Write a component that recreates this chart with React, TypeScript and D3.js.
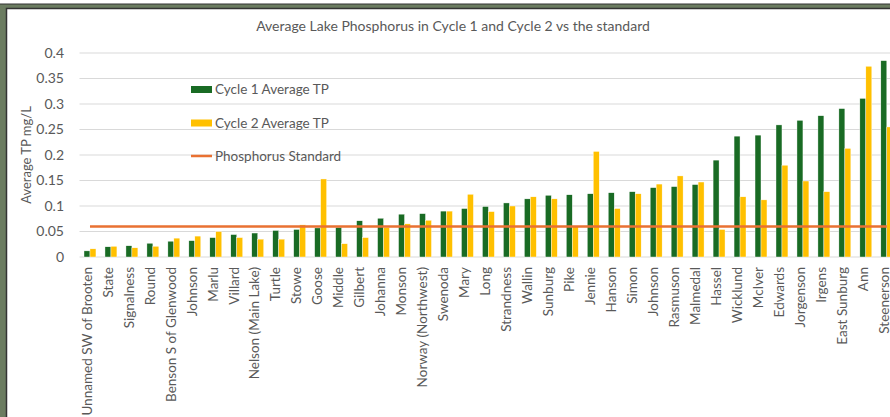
import * as d3 from 'd3'

const lakes = [
  'Unnamed SW of Brooten', 'State', 'Signalness', 'Round', 'Benson S of Glenwood',
  'Johnson', 'Marlu', 'Villard', 'Nelson (Main Lake)', 'Turtle', 'Stowe', 'Goose',
  'Middle', 'Gilbert', 'Johanna', 'Monson', 'Norway (Northwest)', 'Swenoda', 'Mary',
  'Long', 'Strandness', 'Wallin', 'Sunburg', 'Pike', 'Jennie', 'Hanson', 'Simon',
  'Johnson ', 'Rasmuson', 'Malmedal', 'Hassel', 'Wicklund', 'McIver', 'Edwards',
  'Jorgenson', 'Irgens', 'East Sunburg', 'Ann', 'Steenerson'
]

const cycle1 = [
  0.012, 0.020, 0.022, 0.027, 0.031, 0.032, 0.038, 0.044, 0.047, 0.052, 0.054, 0.057,
  0.058, 0.071, 0.076, 0.084, 0.085, 0.090, 0.095, 0.099, 0.106, 0.114, 0.121, 0.122,
  0.124, 0.126, 0.128, 0.136, 0.138, 0.142, 0.190, 0.237, 0.239, 0.259, 0.268, 0.277,
  0.291, 0.311, 0.385
]

const cycle2 = [
  0.016, 0.021, 0.018, 0.021, 0.037, 0.041, 0.050, 0.038, 0.035, 0.035, 0.063, 0.153,
  0.026, 0.038, 0.058, 0.065, 0.072, 0.090, 0.123, 0.089, 0.100, 0.118, 0.114, 0.060,
  0.207, 0.095, 0.124, 0.143, 0.159, 0.147, 0.054, 0.118, 0.112, 0.180, 0.149, 0.128,
  0.213, 0.374, 0.255
]

const standard = 0.06
const yTicks = [0, 0.05, 0.1, 0.15, 0.2, 0.25, 0.3, 0.35, 0.4]
const seriesNames = ['Cycle 1 Average TP', 'Cycle 2 Average TP', 'Phosphorus Standard']

const colors = {
  c1: '#196B24',
  c2: '#FFC000',
  std: '#E97132',
  text: '#595959',
  grid: '#D9D9D9'
}

const W = 890
const H = 417
const plot = { left: 79.5, right: 897.3, top: 53, bottom: 257 }
const font = 'Lato, "Open Sans", sans-serif'

export default function App() {
  const x = d3.scaleBand()
    .domain(lakes)
    .range([plot.left, plot.right])
    .paddingInner(0.43)
    .paddingOuter(0.215)

  const sub = d3.scaleBand()
    .domain(['c1', 'c2'])
    .range([0, x.bandwidth()])

  const y = d3.scaleLinear()
    .domain([0, 0.4])
    .range([plot.bottom, plot.top])

  const fmt = (d: number) => String(+d.toFixed(2))
  const center = (name: string) => (x(name) ?? 0) + x.bandwidth() / 2

  const stdLine = d3.line<string>()
    .x(d => center(d))
    .y(() => y(standard))

  return (
    <svg width={W} height={H} style={{ display: 'block', position: 'absolute', left: 0, top: 0 }}>
      {/* surrounding sheet frame */}
      <rect x={0} y={0} width={W} height={H} fill="#6B7C60" />
      <rect x={0} y={0} width={W} height={4} fill="#fff" />
      <line x1={0} x2={W} y1={4} y2={4} stroke="#333" strokeWidth={1} />
      <rect x={6.5} y={8.5} width={W + 10} height={H + 10} fill="#fff" stroke="#333" strokeWidth={1.5} />

      <text x={453} y={31} textAnchor="middle" fontFamily={font} fontSize={14} fill={colors.text}>
        Average Lake Phosphorus in Cycle 1 and Cycle 2 vs the standard
      </text>

      <g>
        {yTicks.map(t => (
          <g key={t}>
            <line x1={plot.left} x2={W} y1={y(t)} y2={y(t)} stroke={colors.grid} strokeWidth={1} />
            <text x={64} y={y(t)} dy="0.35em" textAnchor="end" fontFamily={font} fontSize={14} fill={colors.text}>
              {fmt(t)}
            </text>
          </g>
        ))}
      </g>

      <text
        transform={`translate(26, ${(plot.top + plot.bottom) / 2}) rotate(-90)`}
        textAnchor="middle"
        dy="0.35em"
        fontFamily={font}
        fontSize={13}
        fill={colors.text}
      >
        Average TP mg/L
      </text>

      <g>
        {lakes.map((name, i) => (
          <g key={name} transform={`translate(${x(name)}, 0)`}>
            <rect
              x={sub('c1')}
              y={y(cycle1[i])}
              width={sub.bandwidth()}
              height={y(0) - y(cycle1[i])}
              fill={colors.c1}
              stroke="#fff"
              strokeWidth={0.4}
            />
            <rect
              x={sub('c2')}
              y={y(cycle2[i])}
              width={sub.bandwidth()}
              height={y(0) - y(cycle2[i])}
              fill={colors.c2}
              stroke="#fff"
              strokeWidth={0.4}
            />
          </g>
        ))}
      </g>

      <path d={stdLine(lakes) ?? ''} fill="none" stroke={colors.std} strokeWidth={2.5} />

      <g>
        {lakes.map(name => (
          <text
            key={name}
            transform={`translate(${center(name) - 3}, 267) rotate(-90)`}
            textAnchor="end"
            dy="0.35em"
            fontFamily={font}
            fontSize={13.5}
            fill={colors.text}
          >
            {name.trim()}
          </text>
        ))}
      </g>

      <g fontFamily={font} fontSize={13.5} fill={colors.text}>
        <rect x={191} y={86} width={21} height={7} fill={colors.c1} />
        <text x={215} y={89.5} dy="0.35em">{seriesNames[0]}</text>
        <rect x={191} y={119.5} width={21} height={7} fill={colors.c2} />
        <text x={215} y={123} dy="0.35em">{seriesNames[1]}</text>
        <line x1={191} x2={212} y1={156} y2={156} stroke={colors.std} strokeWidth={2.5} />
        <text x={215} y={156} dy="0.35em">{seriesNames[2]}</text>
      </g>
    </svg>
  )
}
